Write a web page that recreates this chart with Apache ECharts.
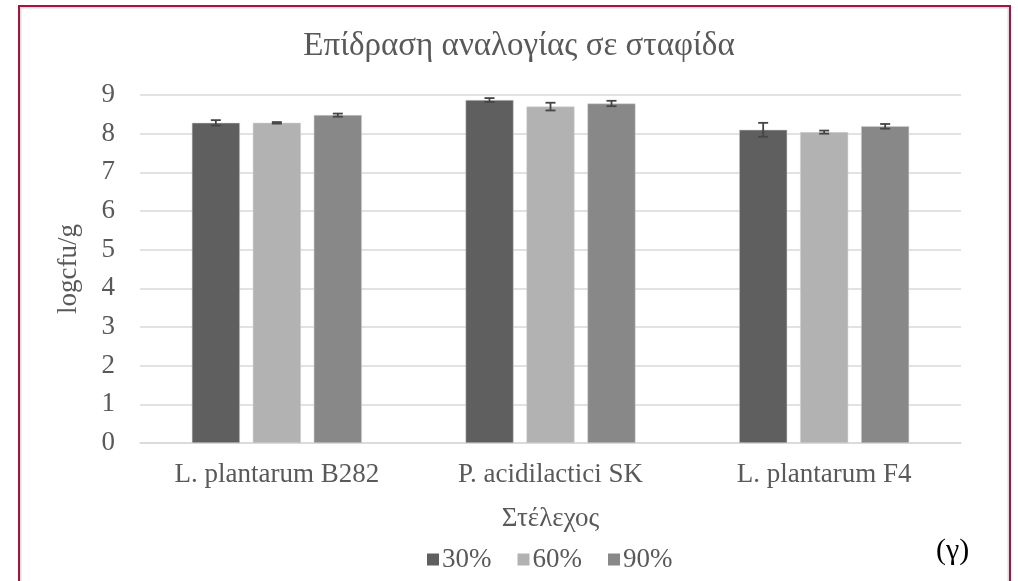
<!DOCTYPE html>
<html lang="el">
    <head>
        <meta charset="UTF-8" />
        <title>Επίδραση αναλογίας σε σταφίδα</title>
        <script src="https://cdnjs.cloudflare.com/ajax/libs/echarts/6.0.0/echarts.min.js"></script>
        <style>
            html, body { margin: 0; padding: 0; background: #fff; }
            #frame {
                position: absolute; left: 18px; top: 5px; width: 993px; height: 600px;
                border: 2.5px solid #a3153f; border-bottom: none; box-sizing: border-box;
                box-shadow: inset 0 0 0 1.5px #dcdcdc;
            }
            #chart { position: absolute; left: 0; top: 0; width: 1018px; height: 581px; }
        </style>
    </head>
    <body>
        <div id="frame"></div>
        <div id="chart"></div>
        <script>
            // data
            const categories = ["L. plantarum B282", "P. acidilactici SK", "L. plantarum F4"];
            const seriesNames = ["30%", "60%", "90%"];
            const values30 = [8.28, 8.87, 8.10];
            const values60 = [8.28, 8.70, 8.04];
            const values90 = [8.48, 8.78, 8.19];
            const errors30 = [0.07, 0.05, 0.18];
            const errors60 = [0.02, 0.10, 0.04];
            const errors90 = [0.04, 0.07, 0.06];
            const yTicks = [0, 1, 2, 3, 4, 5, 6, 7, 8, 9];

            const colors = ["#5f5f5f", "#b2b2b2", "#888888"];
            const allValues = [values30, values60, values90];
            const allErrors = [errors30, errors60, errors90];
            const barWidth = 48;
            const barStep = 61;
            const font = "'Liberation Serif', 'DejaVu Serif', serif";
            const textColor = "#595959";

            const chart = echarts.init(document.getElementById("chart"));

            //bar series
            const bars = seriesNames.map((name, i) => ({
                name: name,
                type: "bar",
                data: allValues[i],
                barWidth: barWidth,
                barGap: "27%",
                itemStyle: { color: colors[i], borderColor: "#d0d0d0", borderWidth: 0.5 },
                z: 2,
            }));

            //error bars drawn on top of each bar
            const errorBars = seriesNames.map((name, i) => ({
                type: "custom",
                name: name + " err",
                data: allValues[i].map((v, k) => [k, v - allErrors[i][k], v + allErrors[i][k]]),
                z: 5,
                silent: true,
                renderItem: function(params, api) {
                    const lo = api.coord([api.value(0), api.value(1)]);
                    const hi = api.coord([api.value(0), api.value(2)]);
                    const x = lo[0] + (i - 1) * barStep;
                    const cap = 5;
                    const style = { stroke: "#454545", lineWidth: 1.8 };
                    return {
                        type: "group",
                        children: [
                            { type: "line", shape: { x1: x, y1: lo[1], x2: x, y2: hi[1] }, style: style },
                            { type: "line", shape: { x1: x - cap, y1: lo[1], x2: x + cap, y2: lo[1] }, style: style },
                            { type: "line", shape: { x1: x - cap, y1: hi[1], x2: x + cap, y2: hi[1] }, style: style },
                        ],
                    };
                },
            }));

            chart.setOption({
                animation: false,
                textStyle: { fontFamily: font },
                title: {
                    text: "Επίδραση αναλογίας σε σταφίδα",
                    left: 514,
                    top: 25,
                    textAlign: "center",
                    textStyle: { fontFamily: font, fontSize: 33, fontWeight: "normal", color: textColor },
                },
                legend: {
                    data: seriesNames,
                    left: 422,
                    top: 541,
                    itemWidth: 12,
                    itemHeight: 12,
                    itemGap: 26,
                    icon: "rect",
                    itemStyle: { borderWidth: 0 },
                    textStyle: { fontFamily: font, fontSize: 27, color: textColor, padding: [0, 0, 0, -2] },
                },
                graphic: [
                    {
                        type: "text",
                        left: 936,
                        top: 536,
                        style: { text: "(γ)", font: "30px 'Liberation Serif', serif", fill: "#000" },
                    },
                ],
                grid: { left: 140, right: 57, top: 95, bottom: 138 },
                xAxis: {
                    type: "category",
                    data: categories,
                    name: "Στέλεχος",
                    nameLocation: "middle",
                    nameGap: 62,
                    nameTextStyle: { fontFamily: font, fontSize: 27, color: textColor },
                    axisLine: { lineStyle: { color: "#d9d9d9", width: 1.5 } },
                    axisTick: { show: false },
                    axisLabel: { fontFamily: font, fontSize: 27, color: textColor, margin: 18 },
                },
                yAxis: {
                    type: "value",
                    min: yTicks[0],
                    max: yTicks[yTicks.length - 1],
                    interval: 1,
                    name: "logcfu/g",
                    nameLocation: "middle",
                    nameGap: 58,
                    nameRotate: 90,
                    nameTextStyle: { fontFamily: font, fontSize: 27, color: textColor },
                    axisLine: { show: false },
                    axisTick: { show: false },
                    axisLabel: { fontFamily: font, fontSize: 27, color: textColor, margin: 25 },
                    splitLine: { lineStyle: { color: "#d9d9d9", width: 1.5 } },
                },
                series: [...bars, ...errorBars],
            });
        </script>
    </body>
</html>
